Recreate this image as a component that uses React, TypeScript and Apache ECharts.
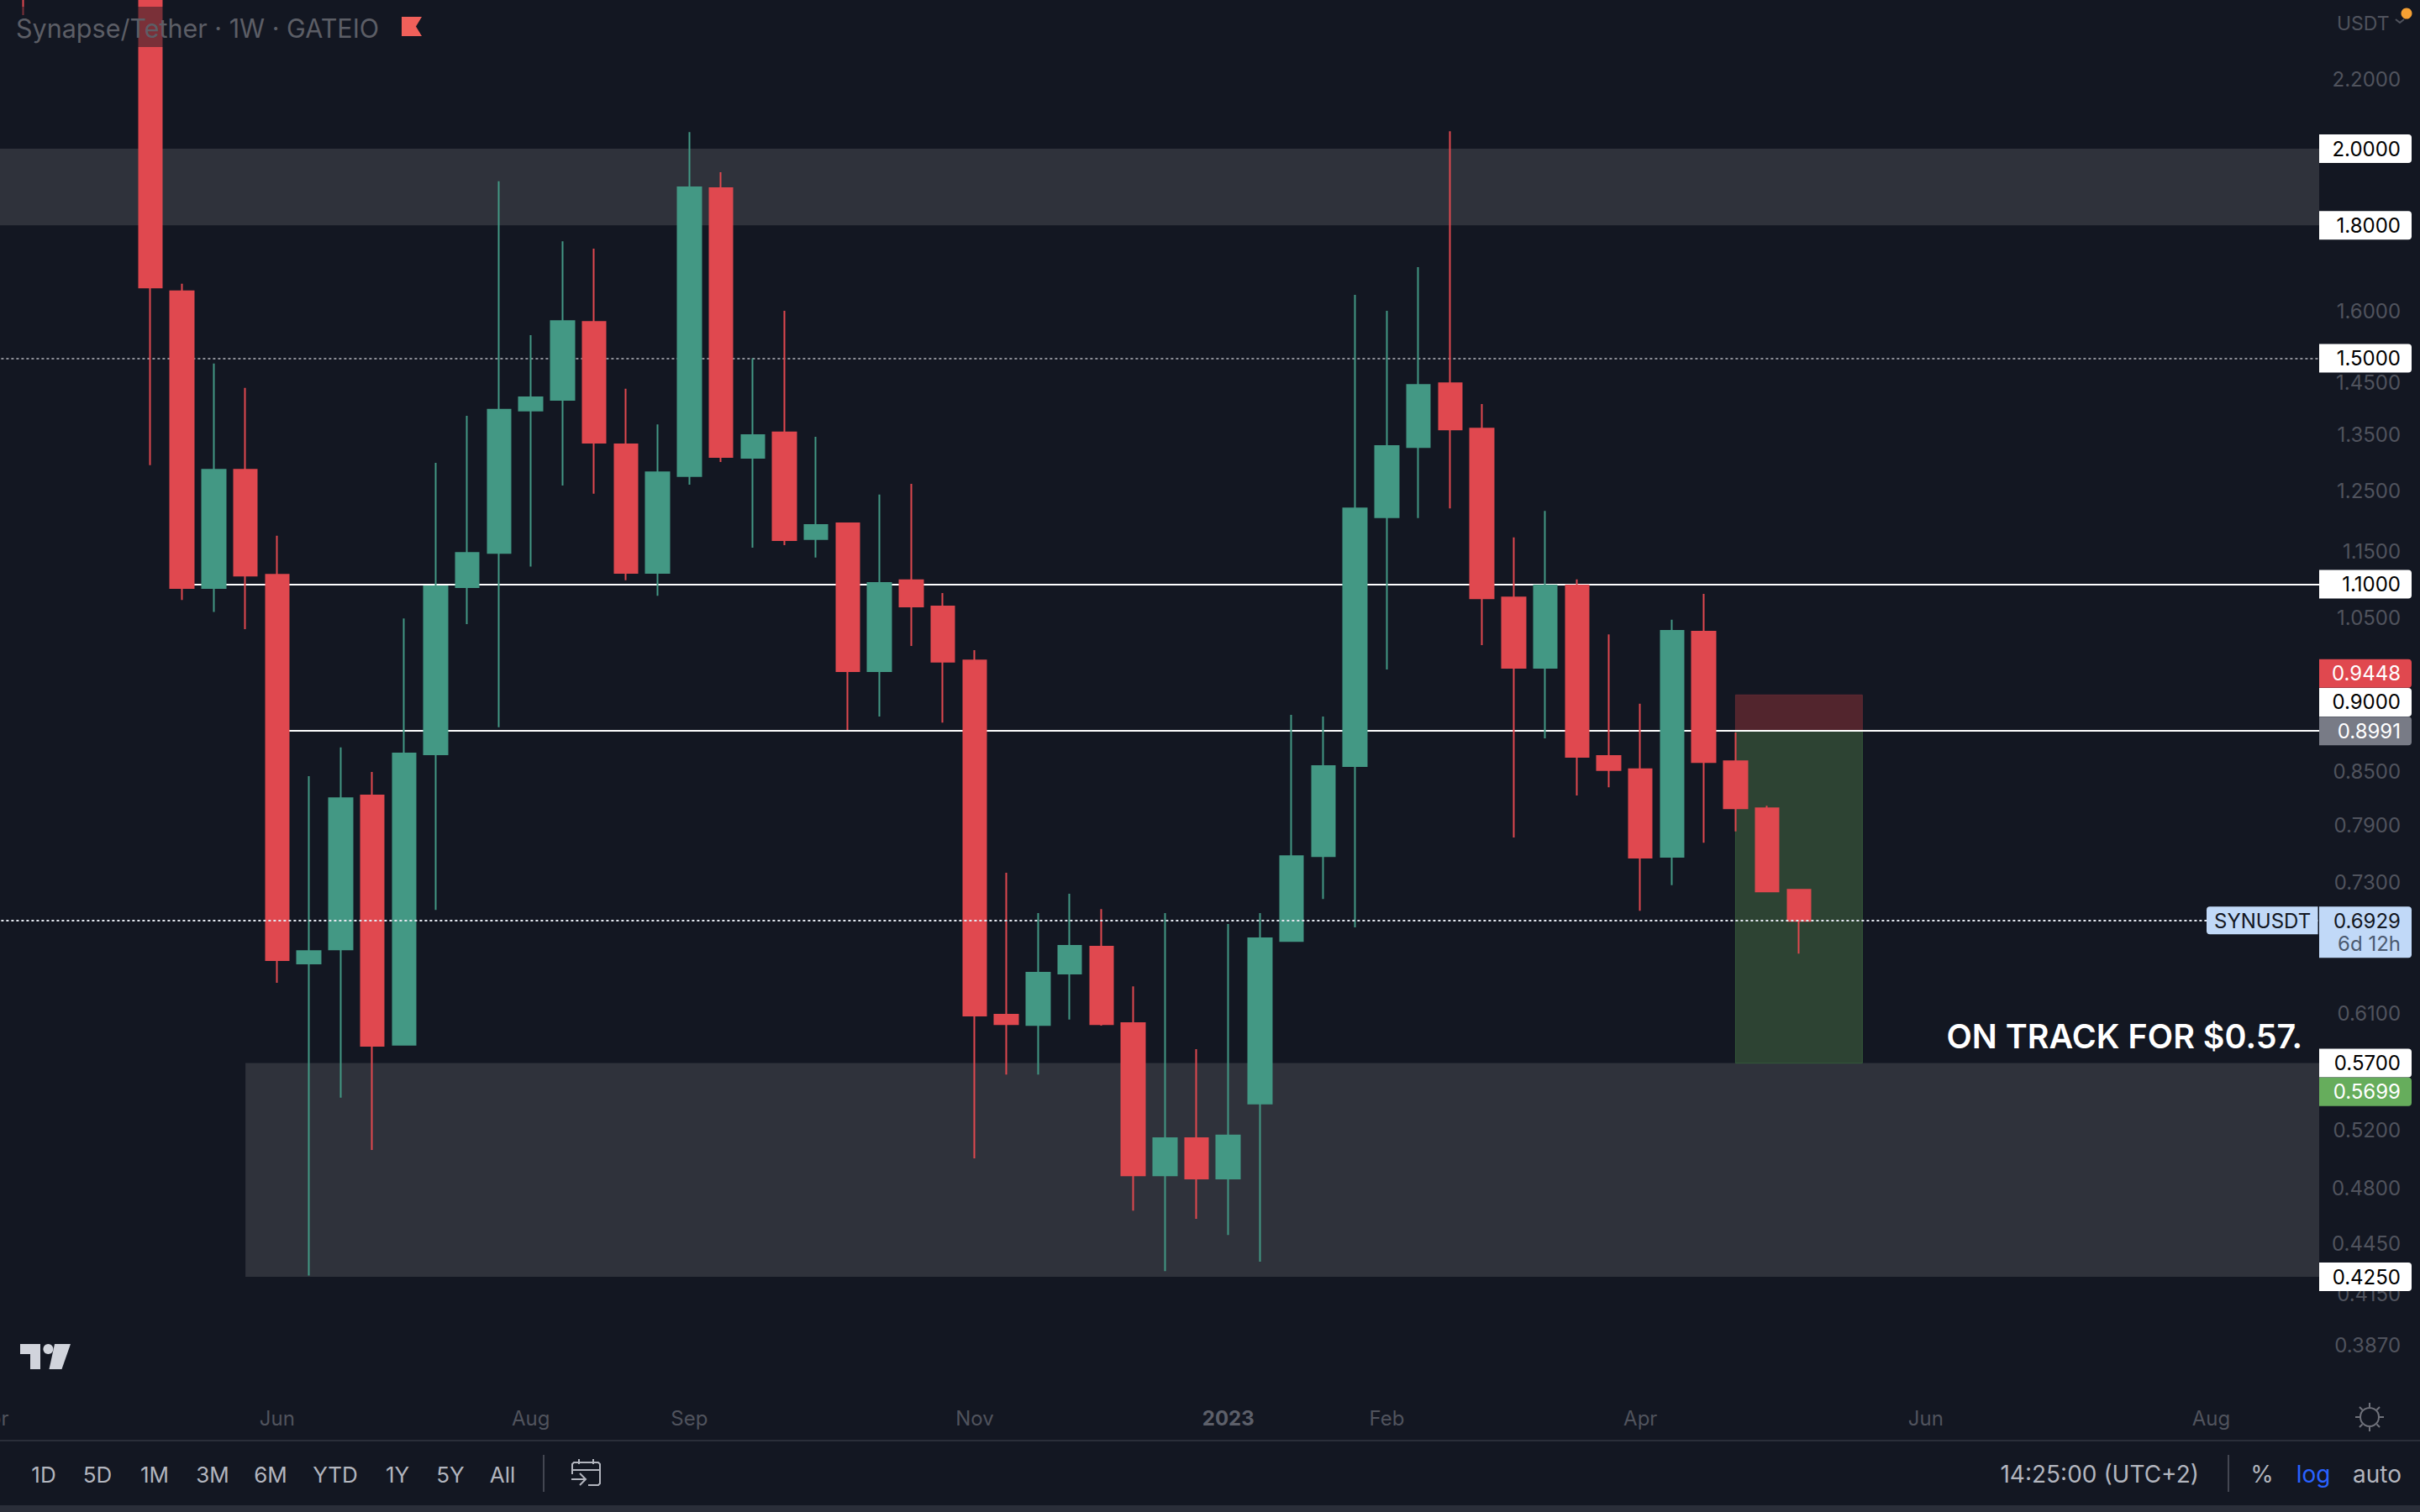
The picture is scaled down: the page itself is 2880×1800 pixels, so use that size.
import React, { useEffect, useRef } from "react";
import * as echarts from "echarts";

const N = null;
const opens = [N,2.75,N,N,N,2.75,1.6442,1.0942,1.2870,1.1143,.6535,.6663,.8231,.5844,.8708,1.0955,1.1482,1.3959,1.4167,1.5767,1.3327,1.1170,1.2758,1.8945,1.3085,1.3547,1.1701,1.1958,.9761,1.1059,1.0669,.9906,.6091,.6006,.6445,.6688,.6021,.4886,.5141,.4864,.5391,.6740,.7572,.8569,1.2057,1.3279,1.4495,1.3619,1.0802,.9807,1.0981,.8688,.8531,.7565,1.0304,.8627,.8086,.7230];
const closes = [N,2.60,N,N,N,1.6529,1.0942,1.2870,1.1130,.6565,.6647,.8200,.5837,.8719,1.0967,1.1482,1.3975,1.4216,1.5787,1.3358,1.1170,1.2826,1.8966,1.3100,1.3498,1.1687,1.1930,.9761,1.1019,1.0669,.9888,.6084,.6012,.6452,.6695,.6012,.4886,.5141,.4864,.5160,.6764,.7572,.8569,1.2207,1.3295,1.4460,1.3603,1.0789,.9807,1.0981,.8679,.8521,.7557,1.0316,.8617,.8086,.7213,.6929];
const lows = [N,2.4025,N,N,N,1.2954,1.0763,1.0587,1.0341,.6364,.4258,.5435,.5059,.5844,.7033,1.0414,.9037,1.1268,1.2594,1.2453,1.1059,1.0827,1.2609,1.3007,1.1565,1.1605,1.1408,.9005,.9171,1.0106,.9096,.5001,.5611,.5611,.6050,.6000,.4655,.4284,.4602,.4501,.4340,.6740,.7140,.6866,.9785,1.2043,1.2207,1.0118,.7769,.8900,.8231,.8323,.7025,.7277,.7713,.7833,.7205,.6624];
const highs = [N,2.85,N,N,N,2.90,1.6615,1.4893,1.4402,1.1756,.8451,.8791,.8501,1.0495,1.2992,1.3861,1.9124,1.5483,1.7613,1.7437,1.4384,1.3699,2.0463,1.9362,1.5000,1.6011,1.3467,1.1973,1.2439,1.2623,1.0867,1.0047,.7402,.7002,.7192,.7042,.6333,.7002,.5809,.6898,.7002,.9193,.9171,1.6364,1.6011,1.7000,2.0487,1.4084,1.1728,1.2163,1.1071,1.0268,.9334,1.0476,1.0853,.8974,.8114,.7239];

const weekCount = 75;
const firstWeekUTC = Date.UTC(2022, 3, 4);
const weeks = Array.from({ length: weekCount }, (_, i) =>
  new Date(firstWeekUTC + i * 7 * 86400000).toISOString().slice(0, 10)
);
const timeTicks: Record<string, string> = {
  "2022-04-04": "Apr", "2022-06-06": "Jun", "2022-08-01": "Aug", "2022-09-05": "Sep",
  "2022-11-07": "Nov", "2023-01-02": "2023", "2023-02-06": "Feb", "2023-04-03": "Apr",
  "2023-06-05": "Jun", "2023-08-07": "Aug",
};
const priceTicks = [2.2, 1.6, 1.45, 1.35, 1.25, 1.15, 1.05, 0.85, 0.79, 0.73, 0.61, 0.52, 0.48, 0.445, 0.415, 0.387];

const upperZone = [1.8, 2.0];
const lowerZone = [0.425, 0.57];
const lowerZoneStartWeek = 8;
const dottedLevel = 1.5;
const solidLevels = [{ value: 1.1, startWeek: 6 }, { value: 0.9, startWeek: 9 }];
const lastPrice = 0.6929;
const positionStop = 0.9448;
const positionEntry = 0.8991;
const positionTarget = 0.5699;
const positionWeeks = [55, 59];

const tagValues = ["2.0000", "1.8000", "1.5000", "1.1000", "0.9448", "0.9000", "0.8991", "0.6929", "0.5700", "0.5699", "0.4250"];
const rangeButtons = ["1D", "5D", "1M", "3M", "6M", "YTD", "1Y", "5Y", "All"];

const BG = "#131722";
const RED = "#E0484F";
const GREEN = "#439884";
const DIM = "#50535d";
const FONT = "Inter, sans-serif";

const TAG_NUDGE: Record<string, number> = { "0.9448": -25.5, "0.9000": -33.5, "0.5699": 34 };
const TAG_STYLE: Record<string, [string, string]> = {
  "0.9448": [RED, "#ffffff"],
  "0.8991": ["#787b86", "#ffffff"],
  "0.5699": ["#66ad5c", "#ffffff"],
  "0.6929": ["#c1d9f8", "#131722"],
};

function txt(text: string, x: number, y: number, size: number, fill: string, align = "center", weight = 400, z = 80) {
  return {
    type: "text", x, y, z, silent: true,
    style: { text, fill, font: `${weight} ${size}px ${FONT}`, align, verticalAlign: "middle", textAlign: align, textVerticalAlign: "middle" },
  };
}
function seg(points: number[][], stroke: string, width = 2, z = 80) {
  return { type: "polyline", z, silent: true, shape: { points }, style: { stroke, lineWidth: width, fill: "none" } };
}

export default function App() {
  const ref = useRef<HTMLDivElement>(null);
  useEffect(() => {
    document.body.style.margin = "0";
    document.body.style.background = BG;
    const chart = echarts.init(ref.current!, undefined, { renderer: "svg" });
    const candles = opens.map((o, i) => (o == null ? ["-", "-", "-", "-"] : [o, closes[i], lows[i], highs[i]]));
    const last = weeks[weeks.length - 1];
    const option: any = {
      animation: false,
      backgroundColor: BG,
      grid: { left: -28.6, top: 0, width: 2829.75, height: 1660, containLabel: false, outerBoundsMode: "none" },
      xAxis: {
        type: "category",
        data: weeks,
        boundaryGap: true,
        axisLine: { show: false },
        axisTick: { show: false },
        splitLine: { show: false },
        axisLabel: {
          interval: (_: number, v: string) => v in timeTicks,
          formatter: (v: string) => (timeTicks[v] === "2023" ? "{b|2023}" : timeTicks[v] || ""),
          color: DIM,
          fontFamily: FONT,
          fontSize: 24,
          margin: 16,
          rich: { b: { color: "#5d606a", fontWeight: 700, fontFamily: FONT, fontSize: 24 } },
        },
      },
      yAxis: {
        type: "log",
        min: 0.36166,
        max: 2.4529,
        position: "right",
        z: 60,
        axisLine: { show: false },
        axisTick: { show: false },
        splitLine: { show: false },
        axisLabel: {
          customValues: priceTicks,
          formatter: (v: number) => Number(v).toFixed(4),
          color: DIM,
          fontFamily: FONT,
          fontSize: 24,
          align: "right",
          margin: 56,
        },
      },
      series: [
        {
          type: "candlestick",
          data: candles,
          z: 10,
          barWidth: 28,
          itemStyle: { color: GREEN, color0: RED, borderColor: GREEN, borderColor0: RED, borderWidth: 2 },
          markArea: {
            silent: true,
            z: 1,
            data: [
              [{ yAxis: upperZone[0], itemStyle: { color: "#2f323b" } }, { yAxis: upperZone[1] }],
              [{ xAxis: weeks[lowerZoneStartWeek], yAxis: lowerZone[0], itemStyle: { color: "#2f323b" } }, { xAxis: last, yAxis: lowerZone[1] }],
              [{ xAxis: weeks[positionWeeks[0]], yAxis: positionStop, itemStyle: { color: "#52252d", borderColor: "#5e2a33", borderWidth: 1 } }, { xAxis: weeks[positionWeeks[1]], yAxis: positionEntry }],
              [{ xAxis: weeks[positionWeeks[0]], yAxis: positionEntry, itemStyle: { color: "#2d4333", borderColor: "#355a3a", borderWidth: 1 } }, { xAxis: weeks[positionWeeks[1]], yAxis: positionTarget }],
            ],
          },
          markLine: {
            silent: true,
            z: 3,
            precision: 6,
            symbol: "none",
            label: { show: false },
            data: [
              { yAxis: dottedLevel, lineStyle: { color: "#8d8f97", width: 2, type: [3, 3] } },
              ...solidLevels.map((l) => [
                { xAxis: weeks[l.startWeek], yAxis: l.value, lineStyle: { color: "#ffffff", width: 2, type: "solid" } },
                { xAxis: last, yAxis: l.value },
              ]),
            ],
          },
        },
        {
          type: "line",
          data: [],
          z: 20,
          markLine: {
            silent: true,
            z: 20,
            precision: 6,
            symbol: "none",
            label: { show: false },
            data: [{ yAxis: lastPrice, lineStyle: { color: "#e4e8f0", width: 2, type: [3, 3] } }],
          },
        },
      ],
    };
    chart.setOption(option);

    const tagEls: any[] = [];
    tagValues.forEach((t) => {
      const y = (chart.convertToPixel({ yAxisIndex: 0 }, Number(t)) as number) + (TAG_NUDGE[t] || 0);
      const [bg, fg] = TAG_STYLE[t] || ["#ffffff", "#000000"];
      if (t === lastPrice.toFixed(4)) {
        tagEls.push({ type: "rect", z: 70, silent: true, shape: { x: 2760, y: y - 17, width: 110, height: 61, r: [0, 4, 4, 0] }, style: { fill: bg } });
        tagEls.push(txt(t, 2857, y, 24, fg, "right"));
        tagEls.push(txt("6d 12h", 2857, y + 27.5, 24, "#4c5a70", "right"));
        tagEls.push({ type: "rect", z: 70, silent: true, shape: { x: 2626, y: y - 17, width: 132.5, height: 33, r: [4, 0, 0, 4] }, style: { fill: bg } });
        tagEls.push(txt("SYNUSDT", 2635, y, 24, fg, "left"));
      } else {
        tagEls.push({ type: "rect", z: 70, silent: true, shape: { x: 2760, y: y - 17, width: 110, height: 34, r: [0, 4, 4, 0] }, style: { fill: bg } });
        tagEls.push(txt(t, 2857, y, 24, fg, "right"));
      }
    });

    const rangeX = [52, 116, 184, 253, 322, 399, 473, 536, 598];
    const gear: any[] = [{ type: "circle", z: 80, silent: true, shape: { cx: 2820, cy: 1687, r: 11 }, style: { stroke: "#70727b", lineWidth: 2, fill: "none" } }];
    for (let k = 0; k < 8; k++) {
      const a = (k * Math.PI) / 4;
      gear.push(seg([[2820 + 12 * Math.cos(a), 1687 + 12 * Math.sin(a)], [2820 + 17 * Math.cos(a), 1687 + 17 * Math.sin(a)]], "#70727b"));
    }

    chart.setOption({
      graphic: {
        elements: [
          { type: "rect", z: 50, silent: true, shape: { x: 2760, y: 0, width: 120, height: 1800 }, style: { fill: BG } },
          { type: "rect", z: 30, silent: true, shape: { x: 8, y: 8, width: 510, height: 48 }, style: { fill: BG, opacity: 0.5 } },
          txt("Synapse/Tether · 1W · GATEIO", 19, 33, 30.5, "#5c5e66", "left", 400),
          { type: "polygon", z: 80, silent: true, shape: { points: [[478, 20], [502, 20], [495, 31.5], [502, 43], [478, 43]] }, style: { fill: "#f0605a" } },
          txt("USDT", 2781, 27.5, 23, DIM, "left"),
          seg([[2851, 23], [2856, 27], [2861, 23]], DIM),
          { type: "circle", z: 80, silent: true, shape: { cx: 2864, cy: 16, r: 6.5 }, style: { fill: "#f5a033" } },
          txt("ON TRACK FOR $0.57.", 2740, 1233.5, 39.5, "#ffffff", "right", 600),
          // TradingView mark
          { type: "polygon", z: 80, silent: true, shape: { points: [[24, 1600], [48, 1600], [48, 1630], [36, 1630], [36, 1612], [24, 1612]] }, style: { fill: "#d1d4dc" } },
          { type: "circle", z: 80, silent: true, shape: { cx: 57.4, cy: 1606, r: 6 }, style: { fill: "#d1d4dc" } },
          { type: "polygon", z: 80, silent: true, shape: { points: [[65, 1600], [84, 1600], [73.5, 1630], [58.5, 1630]] }, style: { fill: "#d1d4dc" } },
          // bottom bar
          { type: "rect", z: 80, silent: true, shape: { x: 0, y: 1714, width: 2880, height: 2 }, style: { fill: "#2a2e39" } },
          { type: "rect", z: 80, silent: true, shape: { x: 0, y: 1792, width: 2880, height: 8 }, style: { fill: "#2a2e39" } },
          ...rangeButtons.map((b, i) => txt(b, rangeX[i], 1755, 26, "#b2b5be")),
          seg([[647, 1732], [647, 1776]], "#434651"),
          seg([[2652, 1732], [2652, 1776]], "#434651"),
          seg([[681, 1755], [681, 1743], [683, 1741], [712, 1741], [714, 1743], [714, 1766], [712, 1768], [700, 1768]], "#b2b5be"),
          seg([[681, 1750], [714, 1750]], "#b2b5be"),
          seg([[689, 1737], [689, 1743]], "#b2b5be"),
          seg([[706, 1737], [706, 1743]], "#b2b5be"),
          seg([[680, 1761], [697, 1761]], "#b2b5be"),
          seg([[690, 1754], [697, 1761], [690, 1768]], "#b2b5be"),
          txt("14:25:00 (UTC+2)", 2617, 1755, 28, "#b2b5be", "right"),
          txt("%", 2692, 1755, 28, "#b2b5be"),
          txt("log", 2753, 1755, 28, "#2962ff"),
          txt("auto", 2829, 1755, 28, "#b2b5be"),
          ...gear,
          ...tagEls,
        ],
      },
    });
    return () => chart.dispose();
  }, []);
  return <div ref={ref} style={{ position: "absolute", left: 0, top: 0, width: 2880, height: 1800 }} />;
}
